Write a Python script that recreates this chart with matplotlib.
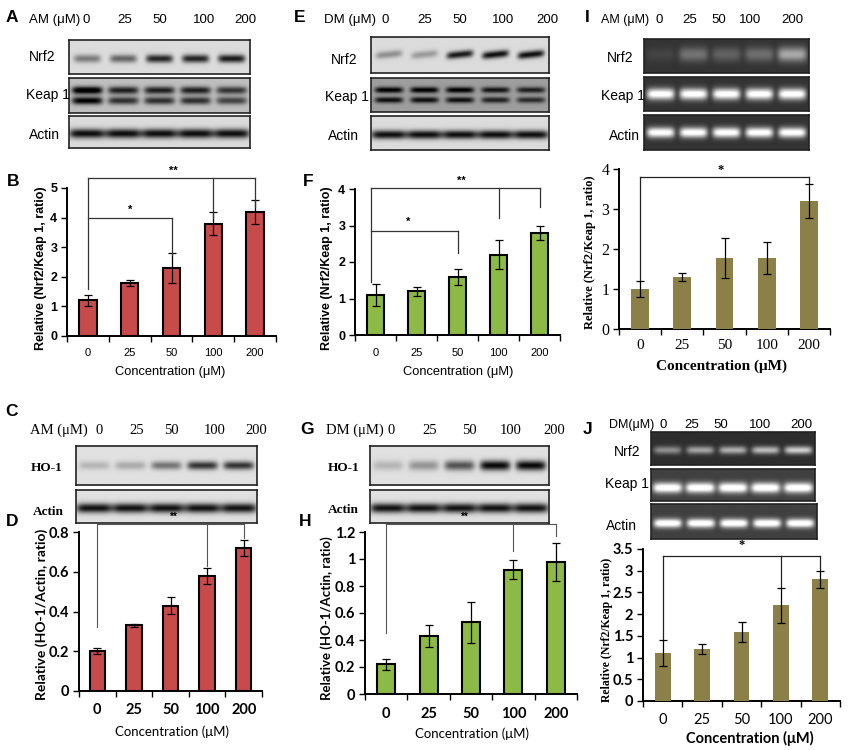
import numpy as np
import matplotlib
matplotlib.use("Agg")
import matplotlib.pyplot as plt
from matplotlib import font_manager

# ---------------- data ----------------
conc_labels = ["0", "25", "50", "100", "200"]

# Western blot / gel band intensities (relative, 0..1)
A_nrf2 = [0.45, 0.55, 0.85, 0.85, 0.9]
A_keap1 = [1.0, 0.75, 0.75, 0.75, 0.65]
A_actin = [0.95, 0.95, 0.95, 0.95, 0.95]
E_nrf2 = [0.35, 0.3, 0.9, 0.95, 0.95]
E_keap1 = [0.75, 0.75, 0.75, 0.65, 0.6]
E_actin = [0.95, 0.95, 0.95, 0.95, 0.95]
I_nrf2 = [0.08, 0.3, 0.22, 0.28, 0.55]
I_keap1 = [1.0, 1.0, 1.0, 1.0, 1.0]
I_actin = [1.0, 1.0, 1.0, 1.0, 1.0]
C_ho1 = [0.2, 0.25, 0.5, 0.8, 0.8]
C_actin = [0.95, 0.95, 0.95, 0.95, 0.95]
G_ho1 = [0.2, 0.35, 0.65, 1.0, 1.0]
G_actin = [0.95, 0.95, 0.95, 0.95, 0.95]
J_nrf2 = [0.45, 0.55, 0.6, 0.65, 0.75]
J_keap1 = [1.0, 1.0, 1.0, 1.0, 1.0]
J_actin = [1.0, 1.0, 1.0, 1.0, 1.0]

# Bar chart values
B_vals = [1.2, 1.8, 2.3, 3.8, 4.2]
B_errs = [0.2, 0.1, 0.5, 0.4, 0.4]
F_vals = [1.1, 1.2, 1.6, 2.2, 2.8]
F_errs = [0.3, 0.12, 0.22, 0.4, 0.2]
I_vals = [1.0, 1.3, 1.78, 1.78, 3.2]
I_errs = [0.2, 0.1, 0.5, 0.4, 0.42]
D_vals = [0.2, 0.33, 0.43, 0.58, 0.72]
D_errs = [0.015, 0.007, 0.045, 0.04, 0.04]
H_vals = [0.22, 0.43, 0.53, 0.92, 0.98]
H_errs = [0.04, 0.08, 0.15, 0.07, 0.14]
J_vals = [1.1, 1.2, 1.6, 2.2, 2.8]
J_errs = [0.3, 0.12, 0.23, 0.4, 0.2]

# ---------------- layout helpers ----------------
W, H = 849, 750
fig = plt.figure(figsize=(W / 100, H / 100), dpi=100)
fig.patch.set_facecolor("white")

_names = {f.name for f in font_manager.fontManager.ttflist}
HAS_NARROW = "Liberation Sans Narrow" in _names

SANS = ["Liberation Sans", "DejaVu Sans"]
NARROW = ["Liberation Sans Narrow", "Liberation Sans", "DejaVu Sans"]
SERIF = ["Liberation Serif", "DejaVu Serif"]
CAL = ["Lato", "Liberation Sans", "DejaVu Sans"]
NS = 1.0 if HAS_NARROW else 0.84  # size factor for narrow texts


def px_axes(x0, y0, x1, y1):
    return fig.add_axes([x0 / W, 1 - y1 / H, (x1 - x0) / W, (y1 - y0) / H])


def T(x, y, s, size=10, family=SANS, weight="normal", ha="left", va="center", rot=0, color="black"):
    fig.text(x / W, 1 - y / H, s, fontsize=size, family=family, weight=weight,
             ha=ha, va=va, rotation=rot, color=color)


def blot(x0, y0, x1, y1, intens, kind="wb", hw=0.075, yc=0.5, hh=0.16,
         double=False, bg=None, slant=0.0, lw=1.2):
    ax = px_axes(x0, y0, x1, y1)
    nx, ny = 300, 60
    xx = np.linspace(0, 1, nx)[None, :]
    yy = np.linspace(0, 1, ny)[:, None]
    sig = np.zeros((ny, nx))
    n = len(intens)
    for i, a in enumerate(intens):
        c = (i + 0.5) / n
        px = np.exp(-((xx - c) / hw) ** 6)
        ycen = yc + slant * (xx - c)
        if double:
            py = np.exp(-((yy - (ycen - 0.15)) / hh) ** 2) + 0.9 * np.exp(-((yy - (ycen + 0.15)) / hh) ** 2)
        else:
            py = np.exp(-((yy - ycen) / hh) ** 2)
        sig += a * px * py
    sig = np.clip(sig, 0, 1.2)
    if kind == "wb":
        b = 0.86 if bg is None else bg
        img = b - sig * 0.85
    else:
        b = 0.17 if bg is None else bg
        img = b + sig * 0.85
    ax.imshow(np.clip(img, 0, 1), cmap="gray", vmin=0, vmax=1, aspect="auto",
              extent=(0, 1, 0, 1), interpolation="bilinear")
    ax.set_xticks([])
    ax.set_yticks([])
    for s in ax.spines.values():
        s.set_linewidth(lw)
        s.set_color("#222222")
    return ax


def bar_panel(x0, y0, x1, y1, vals, errs, ylim, yticks, ytl, color, edge=True,
              ytick_font=SANS, ytick_weight="bold", ytick_size=9,
              xtick_font=NARROW, xtick_size=9, xtick_weight="normal", width=0.42, xpad=9):
    ax = px_axes(x0, y0, x1, y1)
    x = np.arange(len(vals))
    ax.bar(x, vals, width=width, color=color,
           edgecolor="black" if edge else color, linewidth=1.5 if edge else 0,
           yerr=errs, capsize=3,
           error_kw=dict(elinewidth=0.9, capthick=0.9, ecolor="black"), zorder=3)
    ax.set_xlim(-0.5, len(vals) - 0.5)
    ax.set_ylim(*ylim)
    ax.set_yticks(yticks)
    ax.set_yticklabels(ytl, fontsize=ytick_size, family=ytick_font, weight=ytick_weight)
    ax.set_xticks(np.arange(len(vals) + 1) - 0.5)
    ax.set_xticklabels([])
    ax.set_xticks(x, minor=True)
    ax.set_xticklabels(conc_labels, minor=True, fontsize=xtick_size,
                       family=xtick_font, weight=xtick_weight)
    ax.tick_params(axis="x", which="minor", length=0, pad=xpad)
    ax.tick_params(axis="x", which="major", length=4, width=1.0, direction="out")
    ax.tick_params(axis="y", length=4, width=1.0, direction="out", pad=3)
    for s in ["top", "right"]:
        ax.spines[s].set_visible(False)
    for s in ["left", "bottom"]:
        ax.spines[s].set_linewidth(1.4)
    ax.patch.set_alpha(0)
    return ax


def bracket(ax, x0, x1, ytop, drops, color="#333333", lw=0.9):
    ax.plot([x0, x1], [ytop, ytop], color=color, lw=lw, clip_on=False, zorder=4)
    for xd, yd in drops:
        ax.plot([xd, xd], [ytop, yd], color=color, lw=lw, clip_on=False, zorder=4)


HS = 10.5 * NS if HAS_NARROW else 9.5   # header size
LS = 10.5 * NS if HAS_NARROW else 10.0  # blot label size
HS2 = 10.5 * NS if HAS_NARROW else 9.0  # header size in I / J

# ---------------- Panel A ----------------
T(12, 18, "A", size=12.5, weight="bold", ha="center")
T(29, 20, "AM (μM)", size=HS, family=NARROW)
for xx, s in zip([86, 125, 160, 204, 245], conc_labels):
    T(xx, 20, s, size=HS, family=NARROW, ha="center")
blot(69, 40, 250, 74, A_nrf2, hh=0.12, yc=0.55)
blot(69, 78, 250, 113, A_keap1, double=True, hh=0.11, hw=0.085, bg=0.75)
blot(69, 116, 250, 148, A_actin, hw=0.1, hh=0.15, yc=0.55)
T(29, 57, "Nrf2", size=LS, family=NARROW)
T(26, 95, "Keap 1", size=LS, family=NARROW)
T(29, 135, "Actin", size=LS, family=NARROW)

# ---------------- Panel E ----------------
T(300, 18, "E", size=12.5, weight="bold", ha="center")
T(324, 20, "DM (μM)", size=HS, family=NARROW)
for xx, s in zip([385, 425, 460, 503, 547], conc_labels):
    T(xx, 20, s, size=HS, family=NARROW, ha="center")
blot(371, 37, 549, 73, E_nrf2, hh=0.1, yc=0.5, slant=-0.5)
blot(371, 78, 549, 112, E_keap1, double=True, hh=0.09, hw=0.08, bg=0.62)
blot(371, 116, 549, 150, E_actin, hw=0.1, hh=0.13, yc=0.55)
T(331, 60, "Nrf2", size=LS, family=NARROW)
T(325, 97, "Keap 1", size=LS, family=NARROW)
T(328, 136, "Actin", size=LS, family=NARROW)

# ---------------- Panel I ----------------
T(587, 18, "I", size=12.5, weight="bold", ha="center")
T(601, 20, "AM (μM)", size=HS2, family=NARROW)
for xx, s in zip([659, 690, 719, 750, 792], conc_labels):
    T(xx, 20, s, size=HS, family=NARROW, ha="center")
blot(644, 39, 809, 73, I_nrf2, kind="gel", hh=0.22, hw=0.09, yc=0.45, bg=0.2)
blot(644, 77, 809, 111, I_keap1, kind="gel", hh=0.17, hw=0.085, yc=0.5, bg=0.2)
blot(644, 115, 809, 150, I_actin, kind="gel", hh=0.15, hw=0.085, yc=0.5, bg=0.2)
T(607, 58, "Nrf2", size=LS, family=NARROW)
T(601, 96, "Keap 1", size=LS, family=NARROW)
T(609, 136, "Actin", size=LS, family=NARROW)

# ---------------- Panel B ----------------
T(13, 182, "B", size=12.5, weight="bold", ha="center")
axB = bar_panel(67, 188, 276, 336, B_vals, B_errs, (0, 5), range(6),
                [str(v) for v in range(6)], "#C84B4B", xtick_size=9.5 * NS)
bracket(axB, 0, 4, 5.34, [(0, 1.6), (3, 4.0), (4, 4.35)])
bracket(axB, 0, 2, 4.0, [(2, 2.75)])
axB.text(2.05, 5.42, "**", ha="center", va="bottom", fontsize=8, weight="bold", family=SANS)
axB.text(1.0, 4.08, "*", ha="center", va="bottom", fontsize=8, weight="bold", family=SANS)
T(41, 268, "Relative (Nrf2/Keap 1, ratio)", size=9, weight="bold", ha="center", rot=90)
T(170, 372, "Concentration (μM)", size=11 * NS, family=NARROW, ha="center")

# ---------------- Panel F ----------------
T(308, 182, "F", size=12.5, weight="bold", ha="center")
axF = bar_panel(355, 189, 560, 335, F_vals, F_errs, (0, 4), range(5),
                [str(v) for v in range(5)], "#8DB947", xtick_size=9.5 * NS)
bracket(axF, -0.1, 4, 4.02, [(-0.1, 1.45), (3, 3.2), (4, 3.5)])
bracket(axF, -0.1, 2, 2.85, [(2, 2.25)])
axF.text(2.1, 4.1, "**", ha="center", va="bottom", fontsize=8, weight="bold", family=SANS)
axF.text(0.8, 2.95, "*", ha="center", va="bottom", fontsize=8, weight="bold", family=SANS)
T(327, 268, "Relative (Nrf2/Keap 1, ratio)", size=9, weight="bold", ha="center", rot=90)
T(458, 372, "Concentration (μM)", size=11 * NS, family=NARROW, ha="center")

# ---------------- Panel I chart ----------------
axI = bar_panel(619, 169, 830, 329, I_vals, I_errs, (0, 4), range(5),
                [str(v) for v in range(5)], "#8C8049", edge=False,
                ytick_font=SERIF, ytick_weight="normal", ytick_size=11.5,
                xtick_font=SERIF, xtick_size=11, xpad=7)
bracket(axI, 0, 4, 3.8, [(0, 1.22), (4, 3.66)], color="#222222")
axI.text(1.9, 3.83, "*", ha="center", va="bottom", fontsize=9, weight="bold", family=SERIF)
T(590, 252, "Relative (Nrf2/Keap 1, ratio)", size=9, family=SERIF, weight="bold", ha="center", rot=90)
T(722, 366, "Concentration (μM)", size=11, family=SERIF, weight="bold", ha="center")

# ---------------- Panel C ----------------
T(12, 412, "C", size=12.5, weight="bold", ha="center")
T(30, 430, "AM (μM)", size=10.5, family=SERIF)
for xx, s in zip([99, 137, 171, 215, 256], conc_labels):
    T(xx, 430, s, size=10.5, family=SERIF, ha="center")
blot(76, 446, 257, 485, C_ho1, hh=0.11, hw=0.085, yc=0.5, bg=0.88)
blot(76, 490, 257, 523, C_actin, hw=0.1, hh=0.15, yc=0.55, bg=0.88)
T(31, 468, "HO-1", size=9.5, family=SERIF, weight="bold")
T(33, 512, "Actin", size=9.5, family=SERIF, weight="bold")

# ---------------- Panel G ----------------
T(307, 430, "G", size=12.5, weight="bold", ha="center")
T(326, 430, "DM (μM)", size=10.5, family=SERIF)
for xx, s in zip([391, 430, 469, 511, 554], conc_labels):
    T(xx, 430, s, size=10.5, family=SERIF, ha="center")
blot(370, 446, 549, 485, G_ho1, hh=0.13, hw=0.085, yc=0.5, bg=0.88)
blot(370, 490, 549, 523, G_actin, hw=0.1, hh=0.15, yc=0.55, bg=0.88)
T(328, 468, "HO-1", size=9.5, family=SERIF, weight="bold")
T(328, 510, "Actin", size=9.5, family=SERIF, weight="bold")

# ---------------- Panel D ----------------
T(12, 522, "D", size=12.5, weight="bold", ha="center")
axD = bar_panel(79, 532, 262, 691, D_vals, D_errs, (0, 0.8), [0, 0.2, 0.4, 0.6, 0.8],
                ["0", "0.2", "0.4", "0.6", "0.8"], "#C84B4B",
                ytick_font=CAL, ytick_size=10.5, xtick_font=CAL, xtick_size=10.5,
                xtick_weight="bold")
bracket(axD, 0, 4, 0.84, [(0, 0.32), (3, 0.63), (4, 0.77)], color="#555555", lw=0.8)
axD.text(2.1, 0.852, "**", ha="center", va="bottom", fontsize=7, weight="bold", family=SANS)
T(42, 614, "Relative (HO-1/Actin, ratio)", size=10, family=CAL, weight="bold", ha="center", rot=90)
T(172, 732, "Concentration (μM)", size=9.5, family=CAL, ha="center")

# ---------------- Panel H ----------------
T(305, 522, "H", size=12.5, weight="bold", ha="center")
axH = bar_panel(365, 532, 577, 694, H_vals, H_errs, (0, 1.2), [0, 0.2, 0.4, 0.6, 0.8, 1.0, 1.2],
                ["0", "0.2", "0.4", "0.6", "0.8", "1", "1.2"], "#8DB947",
                ytick_font=CAL, ytick_size=10.5, xtick_font=CAL, xtick_size=10.5,
                xtick_weight="bold")
bracket(axH, 0, 4, 1.26, [(0, 0.45), (3, 1.06), (4, 1.17)], color="#555555", lw=0.8)
axH.text(1.85, 1.275, "**", ha="center", va="bottom", fontsize=7, weight="bold", family=SANS)
T(327, 618, "Relative (HO-1/Actin, ratio)", size=9.5, family=CAL, weight="bold", ha="center", rot=90)
T(472, 734, "Concentration (μM)", size=9.5, family=CAL, ha="center")

# ---------------- Panel J ----------------
T(588, 430, "J", size=12.5, weight="bold", ha="center")
T(609, 425, "DM(μM)", size=HS2, family=NARROW)
for xx, s in zip([663, 692, 721, 760, 801], conc_labels):
    T(xx, 425, s, size=HS, family=NARROW, ha="center")
blot(651, 432, 815, 465, J_nrf2, kind="gel", hh=0.12, hw=0.085, yc=0.55, bg=0.18)
blot(651, 469, 815, 501, J_keap1, kind="gel", hh=0.16, hw=0.09, yc=0.6, bg=0.25)
blot(651, 504, 817, 539, J_actin, kind="gel", hh=0.13, hw=0.085, yc=0.55, bg=0.25)
T(614, 452, "Nrf2", size=LS, family=NARROW)
T(605, 484, "Keap 1", size=LS, family=NARROW)
T(606, 526, "Actin", size=LS, family=NARROW)
axJ = bar_panel(643, 549, 840, 701, J_vals, J_errs, (0, 3.5), [0, 0.5, 1, 1.5, 2, 2.5, 3, 3.5],
                ["0", "0.5", "1", "1.5", "2", "2.5", "3", "3.5"], "#8C8049", edge=False,
                ytick_font=CAL, ytick_size=10.5, xtick_font=CAL, xtick_size=10.5,
                width=0.4)
bracket(axJ, 0, 4, 3.35, [(0, 1.43), (3, 2.63), (4, 3.02)], color="#222222")
axJ.text(2.0, 3.45, "*", ha="center", va="bottom", fontsize=9, weight="bold", family=SERIF)
T(607, 630, "Relative (Nrf2/Keap 1, ratio)", size=8.5, family=SERIF, weight="bold", ha="center", rot=90)
T(750, 738, "Concentration (μM)", size=10.5, family=CAL, weight="bold", ha="center")

fig.savefig("out.png", dpi=100, facecolor="white")
